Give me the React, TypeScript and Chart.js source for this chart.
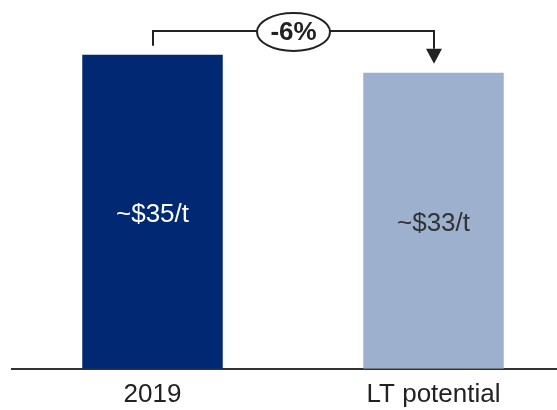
import React, { useEffect, useRef } from "react";
import { Chart, registerables } from "chart.js";

Chart.register(...registerables);

const categories = ["2019", "LT potential"];
const values = [35, 33];
const valueLabels = ["~$35/t", "~$33/t"];
const barColors = ["#002873", "#9DB1CF"];
const labelColors = ["#FFFFFF", "#333333"];
const changeLabel = "-6%";

const FONT = "'Liberation Sans', Arial, Helvetica, sans-serif";

const bracketPlugin = {
  id: "bracket",
  afterDatasetsDraw(chart: any) {
    const meta = chart.getDatasetMeta(0);
    const ctx = chart.ctx as CanvasRenderingContext2D;
    const bars = meta.data;
    ctx.save();
    ctx.font = `26px ${FONT}`;
    ctx.textAlign = "center";
    ctx.textBaseline = "middle";
    bars.forEach((b: any, i: number) => {
      const p = b.getProps(["x", "y", "base"], true);
      ctx.fillStyle = labelColors[i];
      ctx.fillText(valueLabels[i], p.x, (p.y + p.base) / 2 + 3);
    });

    const a = bars[0].getProps(["x", "y"], true);
    const c = bars[1].getProps(["x", "y"], true);
    const topY = Math.round(Math.min(a.y, c.y) - 23.5);
    const gap = 9;
    const headH = 15;
    const ax = Math.round(a.x);
    const cx = Math.round(c.x);
    ctx.strokeStyle = "#222222";
    ctx.lineWidth = 2;
    ctx.beginPath();
    ctx.moveTo(ax, a.y - gap);
    ctx.lineTo(ax, topY);
    ctx.lineTo(cx, topY);
    ctx.lineTo(cx, c.y - gap - headH);
    ctx.stroke();

    ctx.fillStyle = "#222222";
    ctx.beginPath();
    ctx.moveTo(cx - 8, c.y - gap - headH);
    ctx.lineTo(cx + 8, c.y - gap - headH);
    ctx.lineTo(cx, c.y - gap);
    ctx.closePath();
    ctx.fill();

    const mx = (ax + cx) / 2;
    ctx.beginPath();
    ctx.ellipse(mx, topY + 1, 36.5, 19, 0, 0, Math.PI * 2);
    ctx.fillStyle = "#FFFFFF";
    ctx.fill();
    ctx.stroke();
    ctx.fillStyle = "#222222";
    ctx.font = `bold 26px ${FONT}`;
    ctx.fillText(changeLabel, mx, topY + 2);
    ctx.restore();
  },
};

export default function App() {
  const ref = useRef<HTMLCanvasElement | null>(null);

  useEffect(() => {
    if (!ref.current) return;
    const chart = new Chart(ref.current, {
      type: "bar",
      data: {
        labels: categories,
        datasets: [
          {
            data: values,
            backgroundColor: barColors,
            borderWidth: 0,
            barPercentage: 0.5,
            categoryPercentage: 1,
          },
        ],
      },
      options: {
        animation: false,
        responsive: true,
        maintainAspectRatio: false,
        layout: { padding: { left: 12, right: 0, top: 10, bottom: 1 } },
        plugins: {
          legend: { display: false },
          tooltip: { enabled: false },
        },
        scales: {
          x: {
            z: 1,
            grid: { display: false, drawTicks: false },
            border: { display: true, color: "#333333", width: 2 },
            ticks: {
              color: "#222222",
              padding: 10,
              font: { family: FONT, size: 26 },
            },
          },
          y: {
            display: false,
            min: 0,
            max: 40,
          },
        },
      },
      plugins: [bracketPlugin],
    });
    return () => chart.destroy();
  }, []);

  return (
    <div
      style={{
        position: "fixed",
        left: 0,
        top: 0,
        width: 557,
        height: 410,
        overflow: "hidden",
        background: "#FFFFFF",
      }}
    >
      <div style={{ position: "absolute", left: 0, top: 0, width: 574, height: 421 }}>
        <canvas ref={ref} />
      </div>
    </div>
  );
}
